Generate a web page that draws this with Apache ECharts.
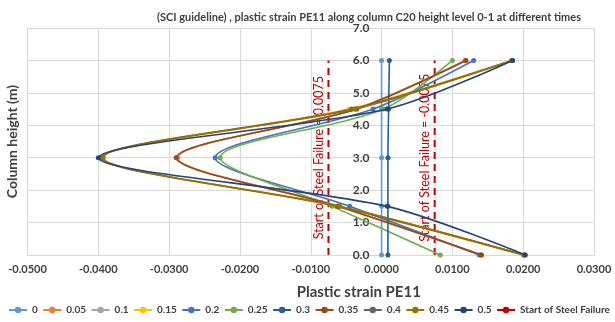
<!DOCTYPE html>
<html><head><meta charset="utf-8">
<script src="https://cdn.jsdelivr.net/npm/echarts@6/dist/echarts.min.js"></script>
<style>html,body{margin:0;padding:0;background:#fff}#c{width:615px;height:322px}</style>
</head><body><div id="c"></div>
<script>
const heights = [0, 1.5, 3, 4.5, 6];
const seriesNames = ['0','0.05','0.1','0.15','0.2','0.25','0.3','0.35','0.4','0.45','0.5'];
const t000 = [0, 0, 0, 0, 0];
const t005 = [0.0141, -0.0060, -0.0288, -0.0036, 0.0119];
const t010 = [0.0140, -0.0061, -0.0289, -0.0037, 0.0118];
const t015 = [0.0200, -0.0064, -0.0395, -0.0046, 0.0183];
const t020 = [0.0138, -0.0045, -0.0235, -0.0012, 0.0130];
const t025 = [0.0083, -0.0070, -0.0228, 0.0003, 0.0100];
const t030 = [0.0009, 0.0009, 0.0009, 0.0010, 0.0011];
const t035 = [0.0141, -0.0062, -0.0290, -0.0035, 0.0119];
const t040 = [0.0201, -0.0061, -0.0396, -0.0042, 0.0184];
const t045 = [0.0202, -0.0059, -0.0393, -0.0038, 0.0185];
const t050 = [0.0203, 0.0008, -0.0400, 0.0008, 0.0185];
const failureStrain = [-0.0075, 0.0075];
const failureLabels = ['Start of Steel Failure = 0.0075', 'Start of Steel Failure = -0.0075'];
const failureHeights = [0, 6];
const xTicks = {min: -0.05, max: 0.03, interval: 0.01};
const yTicks = {min: 0, max: 7, interval: 1};

const allVals = [t000,t005,t010,t015,t020,t025,t030,t035,t040,t045,t050];
const colors = ['#5B9BD5','#ED7D31','#A5A5A5','#FFC000','#4472C4','#70AD47','#255E91','#9E480E','#636363','#997300','#264478'];
const FONT = 'Lato';
const GRID_LEFT = 27.5;

const series = seriesNames.map((n, i) => ({
  name: n, type: 'line', smooth: 0.3,
  data: heights.map((h, j) => [allVals[i][j], h]),
  symbol: 'circle', symbolSize: 5,
  lineStyle: {width: 1.6, color: colors[i]},
  itemStyle: {color: colors[i]},
  z: 3 + i
}));
failureStrain.forEach((s, k) => {
  series.push({
    name: 'Start of Steel Failure', type: 'line',
    data: failureHeights.map(h => [s, h]),
    symbol: 'none',
    lineStyle: {width: 2, color: '#C00000', type: [7, 5]},
    itemStyle: {color: '#C00000'},
    z: 2,
    markLine: {
      silent: true, symbol: 'none',
      lineStyle: {width: 1, color: 'rgba(0,0,0,0)'},
      label: {show: true, position: 'insideMiddleTop', formatter: failureLabels[k],
        color: '#C00000', fontFamily: FONT, fontSize: 12.5, distance: 3},
      data: [[{coord: [s, failureHeights[0]]}, {coord: [s, failureHeights[1]]}]]
    }
  });
});

const chart = echarts.init(document.getElementById('c'), null, {renderer: 'canvas'});
const option = {
  animation: false,
  backgroundColor: '#fff',
  title: {
    text: '(SCI guideline) , plastic strain PE11 along column C20 height level 0-1 at different times',
    left: 364, top: 7, textAlign: 'center',
    textStyle: {fontFamily: FONT, fontSize: 11, fontWeight: 'bold', color: '#404040'}
  },
  legend: {
    data: seriesNames.concat(['Start of Steel Failure']),
    left: 3, top: 300, width: 612, itemWidth: 18, itemHeight: 8, itemGap: 4.5,
    textStyle: {fontFamily: FONT, fontSize: 10, fontWeight: 'bold', color: '#404040'}
  },
  grid: {left: GRID_LEFT, right: 21, top: 28, bottom: 67, containLabel: false, outerBoundsMode: 'none'},
  xAxis: {
    type: 'value', min: xTicks.min, max: xTicks.max, interval: xTicks.interval,
    name: 'Plastic strain PE11', nameLocation: 'middle', nameGap: 30,
    nameTextStyle: {fontFamily: FONT, fontSize: 15, fontWeight: 'bold', color: '#404040', padding: [0,0,0,96]},
    axisLine: {show: true, onZero: false, lineStyle: {color: '#D9D9D9'}},
    axisTick: {show: false},
    axisLabel: {fontFamily: FONT, fontSize: 11, fontWeight: 'bold', color: '#404040', margin: 9,
      formatter: v => v.toFixed(4)},
    splitLine: {show: true, lineStyle: {color: '#D9D9D9', width: 1}}
  },
  yAxis: {
    type: 'value', min: yTicks.min, max: yTicks.max, interval: yTicks.interval,
    position: 'left', offset: 0,
    name: 'Column height (m)', nameLocation: 'middle', nameGap: 24, nameRotate: 90,
    nameTextStyle: {fontFamily: FONT, fontSize: 14, fontWeight: 'bold', color: '#404040'},
    axisLine: {show: true, onZero: false, lineStyle: {color: '#D9D9D9'}},
    axisTick: {show: false},
    axisLabel: {fontFamily: FONT, fontSize: 12, fontWeight: 'bold', color: '#404040', margin: 12,
      formatter: v => v.toFixed(1)},
    splitLine: {show: true, lineStyle: {color: '#D9D9D9', width: 1}}
  },
  series: series
};
chart.setOption(option);
// move the y axis to x = 0 of the strain scale (as in the original chart)
const zeroPx = chart.convertToPixel({xAxisIndex: 0}, 0);
const shift = zeroPx - GRID_LEFT;
chart.setOption({yAxis: {offset: -shift, nameGap: shift + 8}});
</script></body></html>
